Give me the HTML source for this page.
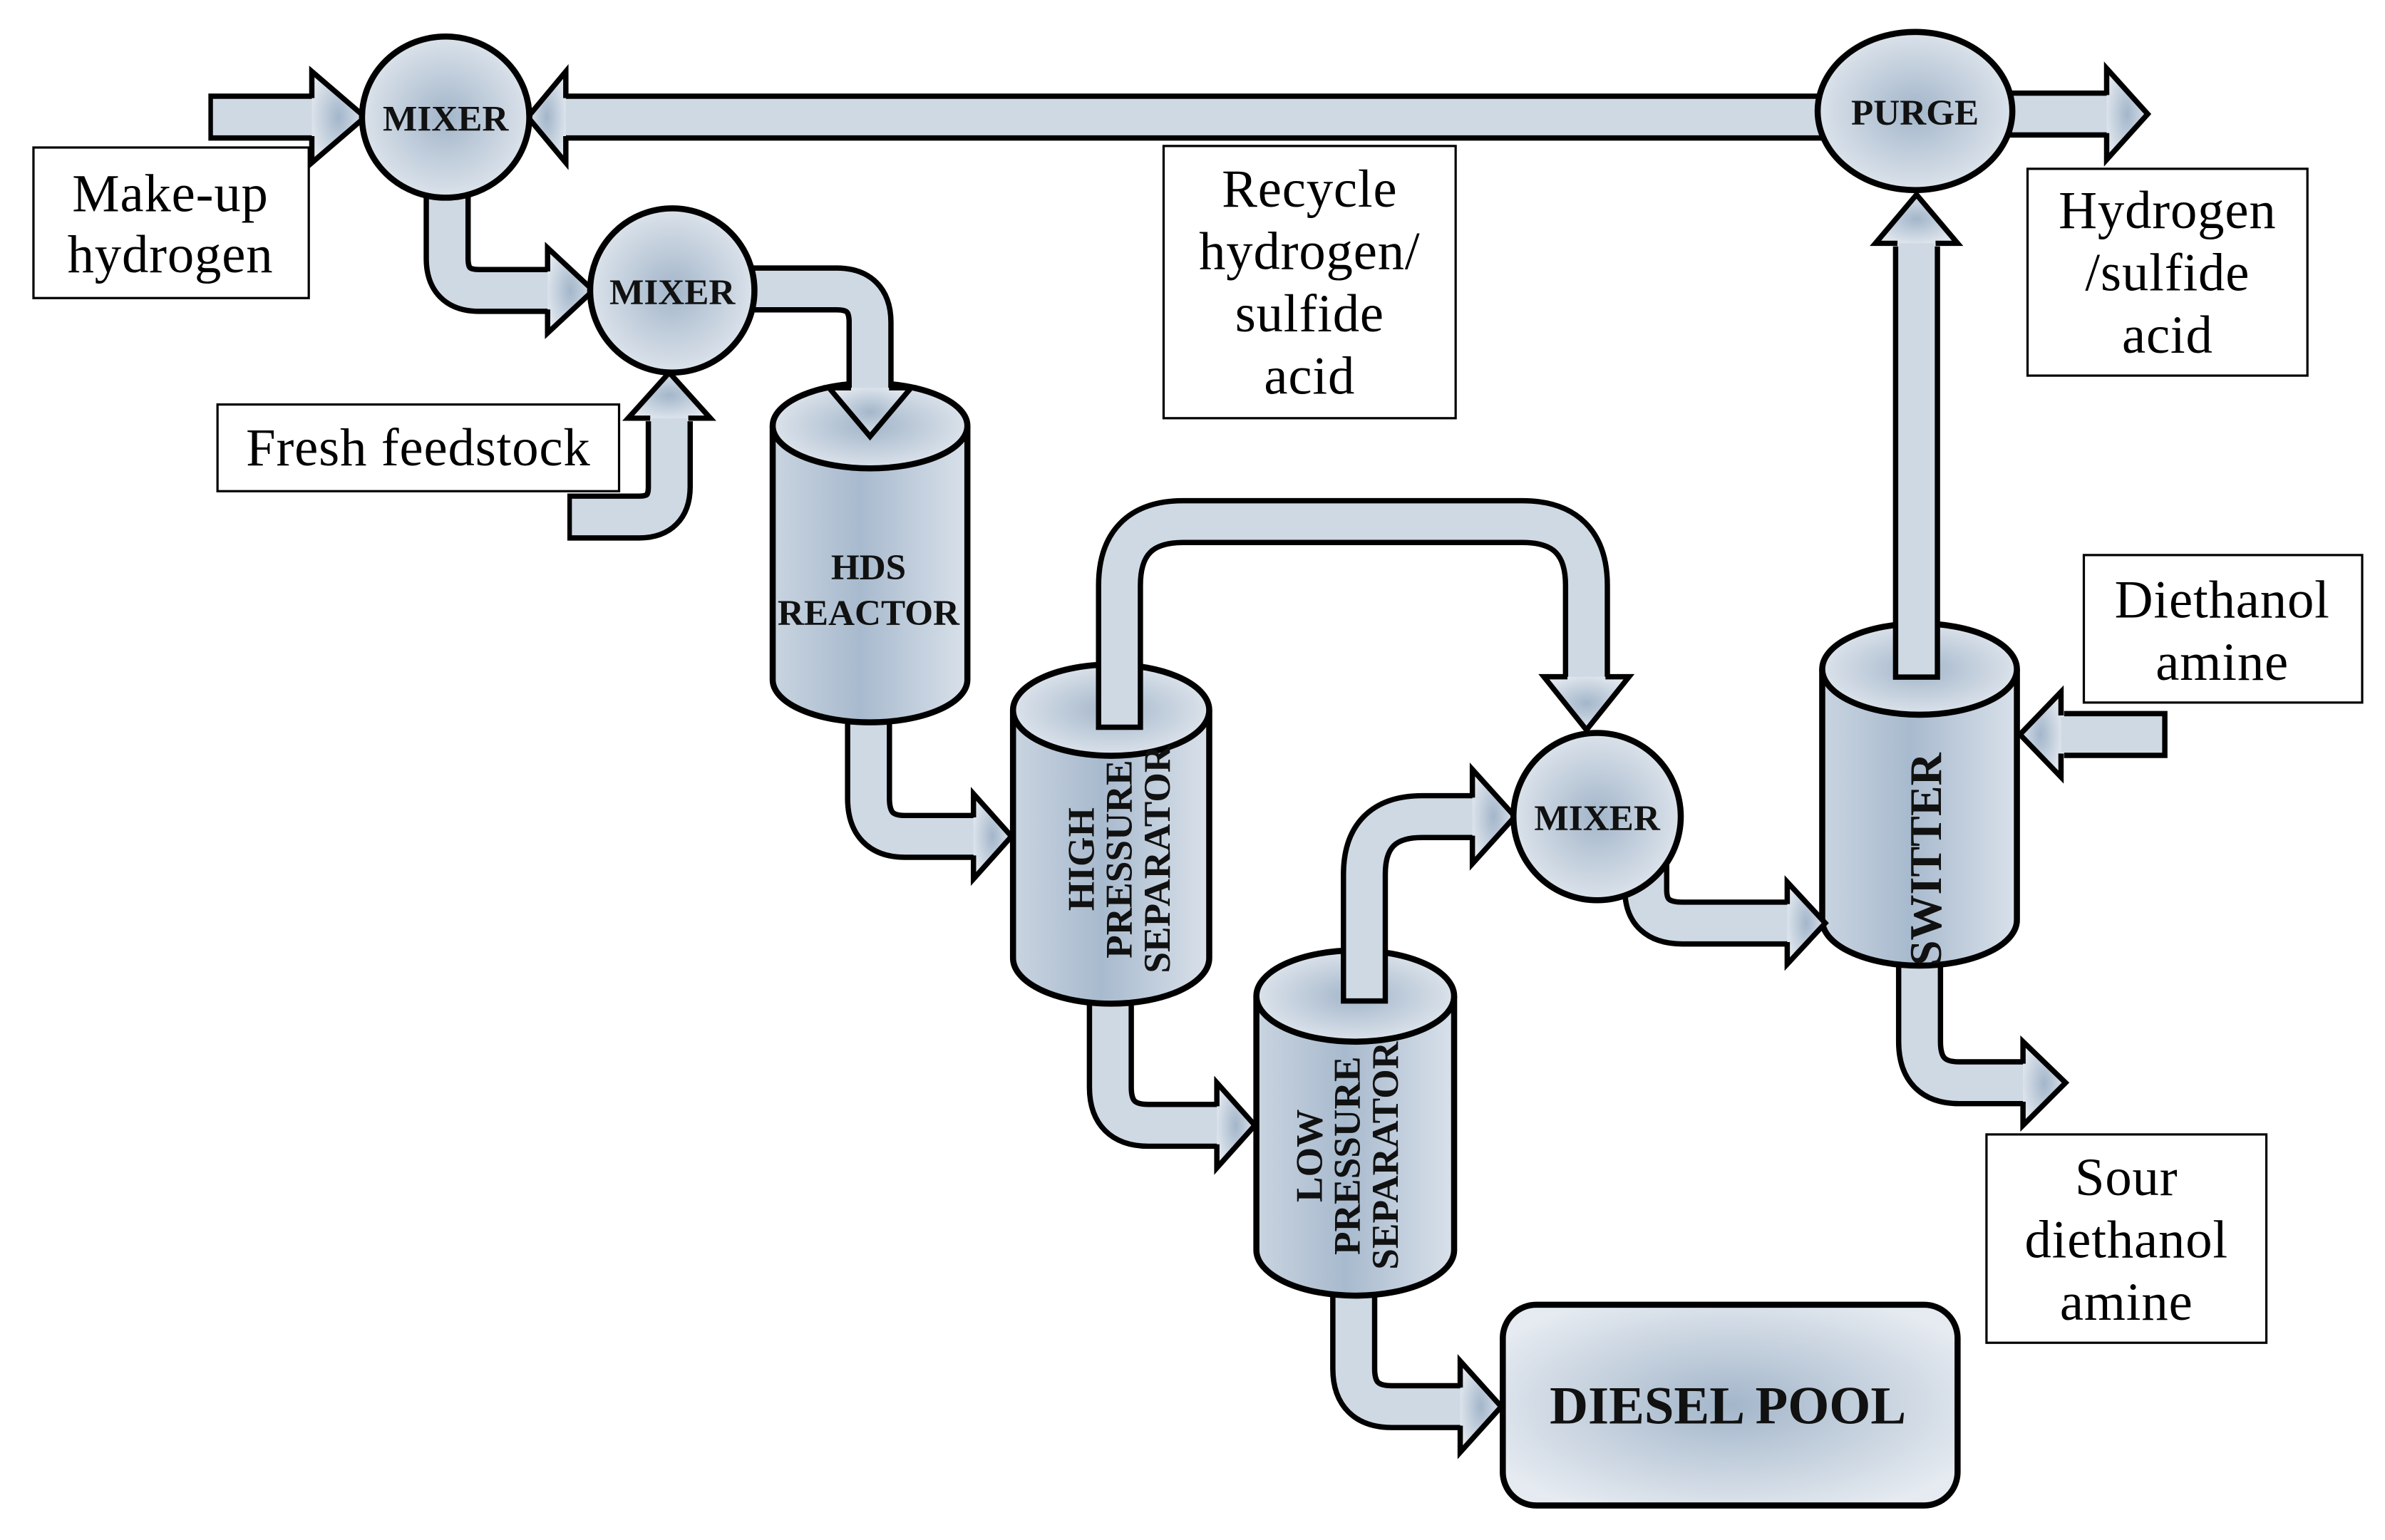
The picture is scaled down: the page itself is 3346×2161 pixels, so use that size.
<!DOCTYPE html>
<html><head><meta charset="utf-8"><style>
html,body{margin:0;padding:0;background:#fff;}
svg{display:block;}
</style></head><body>
<svg width="3346" height="2161" viewBox="0 0 1568 1012.7" preserveAspectRatio="none" xmlns="http://www.w3.org/2000/svg" font-family="'Liberation Serif', serif">
<defs>
<radialGradient id="g" cx="50%" cy="50%" r="60%">
<stop offset="0" stop-color="#a3b6ca"/><stop offset="1" stop-color="#e6ebf1"/></radialGradient>
<linearGradient id="cyl" x1="0" x2="1" y1="0" y2="0">
<stop offset="0" stop-color="#c9d4e0"/><stop offset="0.45" stop-color="#a8bace"/><stop offset="1" stop-color="#d9e1ea"/></linearGradient>
</defs>

<!-- label boxes -->
<g fill="#fff" stroke="#000" stroke-width="1.5">
<rect x="22" y="97" width="181" height="99"/>
<rect x="143" y="266" width="264" height="57"/>
<rect x="765" y="96" width="192" height="179"/>
<rect x="1333" y="111" width="184" height="136"/>
<rect x="1370" y="365" width="183" height="97"/>
<rect x="1306" y="746" width="184" height="137"/>
</g>
<g font-size="35" letter-spacing="0.4" text-anchor="middle" fill="#000">
<text x="112" y="139">Make-up</text><text x="112" y="179">hydrogen</text>
<text x="275" y="306">Fresh feedstock</text>
<text x="861" y="136">Recycle</text><text x="861" y="177">hydrogen/</text><text x="861" y="218">sulfide</text><text x="861" y="259">acid</text>
<text x="1425" y="150">Hydrogen</text><text x="1425" y="191">/sulfide</text><text x="1425" y="232">acid</text>
<text x="1461" y="406">Diethanol</text><text x="1461" y="447">amine</text>
<text x="1398" y="786">Sour</text><text x="1398" y="827">diethanol</text><text x="1398" y="868">amine</text>
</g>

<!-- pipes behind vessels -->
<g fill="none" stroke-linejoin="round" stroke-linecap="butt">
<g stroke="#000" stroke-width="31">
<path d="M571,455 V525 Q571,550 595,550 H642"/>
<path d="M730,640 V715 Q730,740 755,740 H802"/>
<path d="M890,830 V900 Q890,925 915,925 H962"/>
<path d="M1262,620 V685 Q1262,712 1288,712 H1332"/>
</g>
<g stroke="#cfd9e4" stroke-width="24">
<path d="M571,455 V525 Q571,550 595,550 H646"/>
<path d="M730,640 V715 Q730,740 755,740 H806"/>
<path d="M890,830 V900 Q890,925 915,925 H966"/>
<path d="M1262,620 V685 Q1262,712 1288,712 H1336"/>
</g>
</g>

<!-- vessels -->
<g stroke="#000" stroke-width="4">
<path d="M508,280 V447 A64,28 0 0 0 636,447 V280" fill="url(#cyl)"/>
<ellipse cx="572" cy="280" rx="64" ry="28" fill="url(#g)"/>
<path d="M666,467 V630 A64.5,30 0 0 0 795,630 V467" fill="url(#cyl)"/>
<ellipse cx="730.5" cy="467" rx="64.5" ry="30" fill="url(#g)"/>
<path d="M826,655 V822 A65,30 0 0 0 956,822 V655" fill="url(#cyl)"/>
<ellipse cx="891" cy="655" rx="65" ry="30" fill="url(#g)"/>
<path d="M1198,440 V605 A64,30 0 0 0 1326,605 V440" fill="url(#cyl)"/>
<ellipse cx="1262" cy="440" rx="64" ry="30" fill="url(#g)"/>
<rect x="988" y="858" width="299" height="132" rx="22" fill="url(#g)"/>
</g>

<!-- pipes -->
<g fill="none" stroke-linejoin="round" stroke-linecap="butt">
<g stroke="#000" stroke-width="31">
<path d="M137,77 H210"/>
<path d="M1210,77 H372"/>
<path d="M1310,75 H1388"/>
<path d="M294,115 V170 Q294,191 315,191 H362"/>
<path d="M373,340 H420 Q440,340 440,320 V277"/>
<path d="M480,190 H550 Q572,190 572,212 V257"/>
<path d="M736,480 V385 Q736,343 778,343 H1001 Q1043,343 1043,385 V447"/>
<path d="M897,660 V575 Q897,537 935,537 H970"/>
<path d="M1082,555 V585 Q1082,607 1106,607 H1177"/>
<path d="M1260,447 V162"/>
<path d="M1425,483 H1357"/>
</g>
<g stroke="#cfd9e4" stroke-width="24">
<path d="M140,77 H214"/>
<path d="M1210,77 H368"/>
<path d="M1310,75 H1392"/>
<path d="M294,115 V170 Q294,191 315,191 H366"/>
<path d="M376,340 H420 Q440,340 440,320 V273"/>
<path d="M480,190 H550 Q572,190 572,212 V261"/>
<path d="M736,476.5 V385 Q736,343 778,343 H1001 Q1043,343 1043,385 V451"/>
<path d="M897,656.5 V575 Q897,537 935,537 H974"/>
<path d="M1082,555 V585 Q1082,607 1106,607 H1181"/>
<path d="M1260,443.5 V158"/>
<path d="M1421.5,483 H1353"/>
</g>
</g>

<!-- arrowheads -->
<g fill="url(#g)" stroke="#000" stroke-width="3.5" stroke-linejoin="miter">
<path d="M205,64.5 V47 L240,77 L205,107 V89.5"/>
<path d="M372,64.5 V47 L347,77 L372,107 V89.5"/>
<path d="M1385,62.5 V45 L1412,75 L1385,105 V87.5"/>
<path d="M360,178.5 V163 L390,191 L360,219 V203.5"/>
<path d="M427.5,275 H413 L440,245 L467,275 H452.5"/>
<path d="M559.5,255 H545 L572,287 L599,255 H584.5"/>
<path d="M640,537.5 V522 L665,550 L640,578 V562.5"/>
<path d="M1030.5,445 H1015 L1043,480 L1071,445 H1055.5"/>
<path d="M800,727.5 V712 L825,740 L800,768 V752.5"/>
<path d="M968,524.5 V506 L996,537 L968,568 V549.5"/>
<path d="M960,912.5 V895 L987,925 L960,955 V937.5"/>
<path d="M1175,594.5 V580 L1200,607 L1175,634 V619.5"/>
<path d="M1247.5,160 H1233 L1260,128 L1287,160 H1272.5"/>
<path d="M1355,470.5 V455 L1328,483 L1355,511 V495.5"/>
<path d="M1330,699.5 V685 L1358,712 L1330,740 V724.5"/>
</g>

<!-- mixers -->
<g stroke="#000" stroke-width="4" fill="url(#g)">
<ellipse cx="293" cy="77" rx="55" ry="53"/>
<ellipse cx="442" cy="191" rx="54" ry="54"/>
<ellipse cx="1259" cy="73" rx="64" ry="52"/>
<ellipse cx="1050" cy="537" rx="55" ry="55"/>
</g>

<g font-weight="bold" text-anchor="middle" fill="#111">
<text x="293" y="86" font-size="24">MIXER</text>
<text x="442" y="200" font-size="24">MIXER</text>
<text x="1259" y="82" font-size="24">PURGE</text>
<text x="1050" y="546" font-size="24">MIXER</text>
<text x="571" y="381" font-size="24">HDS</text>
<text x="571" y="411" font-size="24">REACTOR</text>
<text x="1136" y="936" font-size="35">DIESEL POOL</text>
<g font-size="25">
<text transform="translate(719,565) rotate(-90)">HIGH</text>
<text transform="translate(744,565) rotate(-90)">PRESSURE</text>
<text transform="translate(769,565) rotate(-90)">SEPARATOR</text>
<text transform="translate(869,760) rotate(-90)">LOW</text>
<text transform="translate(894,760) rotate(-90)">PRESSURE</text>
<text transform="translate(919,760) rotate(-90)">SEPARATOR</text>
</g>
<text transform="translate(1276,565) rotate(-90)" font-size="30">SWITTER</text>
</g>
</svg>
</body></html>
